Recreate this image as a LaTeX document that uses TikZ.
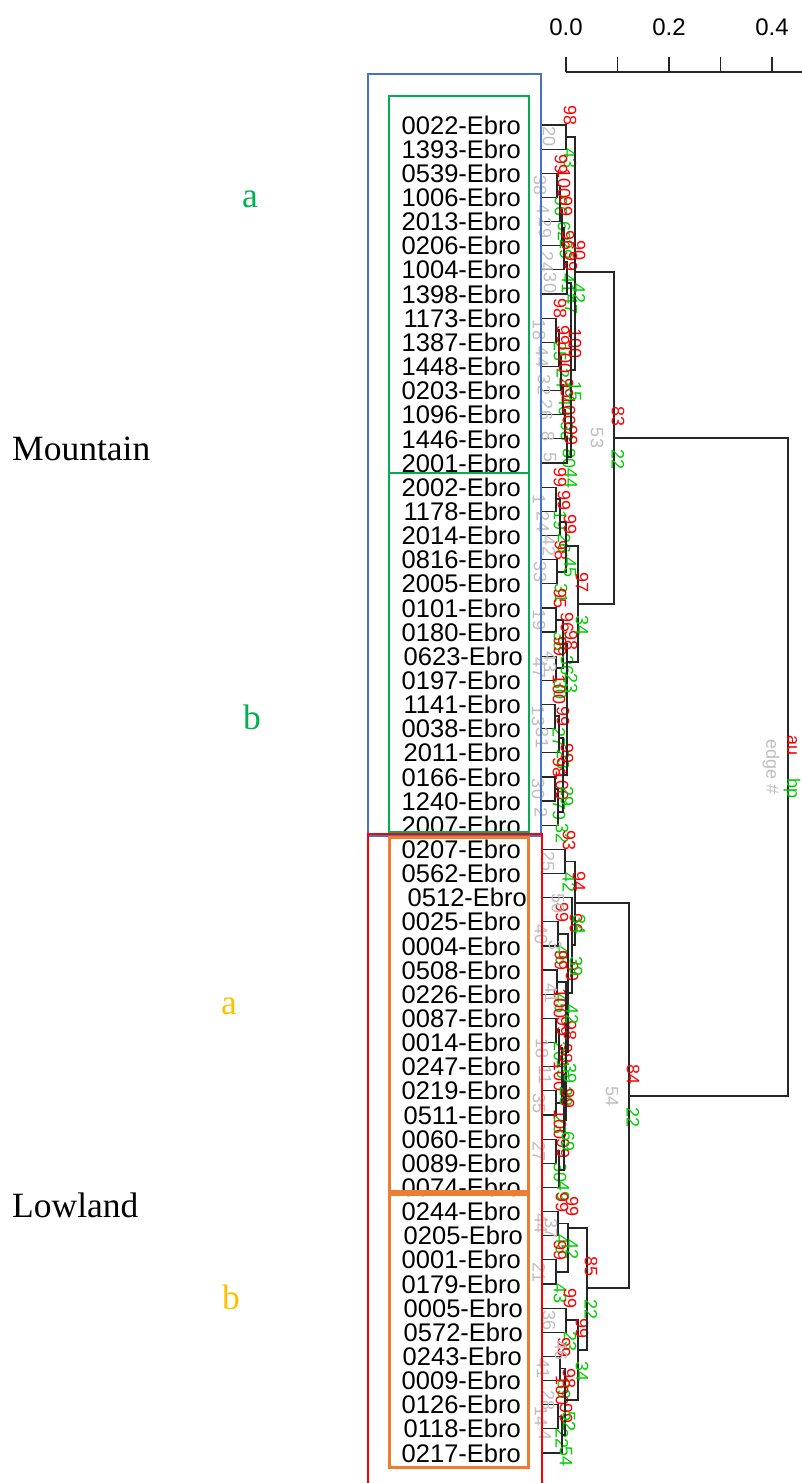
\documentclass[tikz,border=0pt]{standalone}
\usepackage{fontspec}
\setmainfont{Liberation Serif}
\setsansfont{Liberation Sans}
\usepackage{xcolor}
\definecolor{grpgreen}{HTML}{00B050}
\definecolor{grpgold}{HTML}{FFC000}
\definecolor{grporange}{HTML}{ED7D31}
\definecolor{grpblue}{HTML}{4472C4}
\definecolor{pvred}{HTML}{FF0000}
\definecolor{pvgreen}{HTML}{00CD00}
\definecolor{pvgrey}{HTML}{BEBEBE}
\usepackage{tikz}

\begin{document}
\begin{tikzpicture}[x=1pt, y=-1pt,
  tree/.style={black!85, line width=1.2pt},
  axis/.style={black!85, line width=1.2pt},
  leaf/.style={anchor=east, inner sep=0pt, font=\sffamily\fontsize{25.5}{26}\selectfont},
  num/.style={rotate=-90, inner sep=0pt, font=\sffamily\fontsize{18}{18}\selectfont},
  aulab/.style={num, text=pvred, anchor=east},
  bplab/.style={num, text=pvgreen, anchor=west},
  edgelab/.style={num, text=pvgrey},
  axlab/.style={inner sep=0pt, font=\sffamily\fontsize{24}{24}\selectfont},
  grp/.style={inner sep=0pt, font=\fontsize{35.5}{36}\selectfont},
  box/.style={line width=2pt}
]
  \useasboundingbox (0,0) rectangle (802,1483);

  % scale
  \draw[axis] (566,72) -- (802,72);
  \foreach \t in {0,...,4}
    \draw[axis] (566+51.5*\t,57) -- (566+51.5*\t,72);
  \node[axlab] (x0) at (566,27) {0.0};
  \node[axlab] (x2) at (669,27) {0.2};
  \node[axlab] (x4) at (772,27) {0.4};

  % leaves
  \foreach \lab/\dx [count=\i from 0] in {
    0022/0, 1393/0, 0539/0, 1006/0, 2013/0, 0206/0, 1004/0, 1398/0,
    1173/0, 1387/0, 1448/0, 0203/0, 1096/0, 1446/0, 2001/0,
    2002/0, 1178/0, 2014/0, 0816/0, 2005/0, 0101/0, 0180/0, 0623/2,
    0197/0, 1141/0, 0038/0, 2011/0, 0166/0, 1240/0, 2007/0,
    0207/0, 0562/0, 0512/6, 0025/0, 0004/0, 0508/0, 0226/0, 0087/0,
    0014/0, 0247/0, 0219/0, 0511/0, 0060/0, 0089/0, 0074/0,
    0244/0, 0205/2, 0001/0, 0179/0, 0005/2, 0572/2, 0243/1, 0009/0,
    0126/0, 0118/0, 0217/0}{
    \pgfmathsetmacro\yy{125+24.145*\i}
    \coordinate (L\i) at (542,\yy);
    \node[leaf] (t\i) at (521+\dx,\yy) {\lab-Ebro};
  }

  % merges: name/height/y/child/child/au/bp/edge
  \foreach \nd/\h/\y/\ca/\cb/\au/\bp/\ed in {
    n20/566/137/L0/L1/98/43/20,
    n38/557/185.4/L2/L3/99/96/38,
    n4/560/210/n38/L4/100/62/4,
    n29/562/228/n4/L5/99/29/29,
    n24/564/262/n29/L6/96/41/24,
    n30/567/283/n24/L7/99/47/30,
    n18/556/330/L8/L9/98/25/18,
    n44/559/357/n18/L10/99/24/44,
    n32/561/385/n44/L11/100/40/32,
    n26/563/410/n32/L12/99/93/26,
    n8/565/437/n26/L13/100/80/8,
    n5/567/457/n8/L14/99/44/5,
    nX/571/370/n30/n5/100/15/{},
    mA/575/272/n20/nX/90/42/{},
    m1/556/499/L15/L16/99/19/1,
    m24/560/522/m1/L17/99/26/24,
    m33/557/572/L18/L19/98/31/33,
    mP/566/546/m24/m33/99/45/42,
    m3/556/620/L20/L21/95/38/19,
    m47/556/668/L22/L23/99/30/47,
    mR/563/644/m3/m47/96/36/{},
    m13/555/716/L24/L25/100/27/13,
    m31/559/738/m13/L26/99/23/31,
    m30/555/789/L27/L28/98/79/30,
    m2/558/812/m30/L29/100/32/2,
    mS/563/775/m31/m2/99/29/{},
    mQ/567/662/mR/mS/98/23/43,
    mB/578/604/mP/mQ/97/34/{},
    c1/565/861.5/L30/L31/93/42/25,
    Z1/558/934/L33/L34/99/46/40,
    Z3/557/982/L35/L36/99/45/{},
    Z4/556/1030/L37/L38/100/20/{},
    Z5/559/1048/Z4/L39/99/19/18,
    Z6/556/1103/L40/L41/100/23/35,
    Z7/562/1075/Z5/Z6/98/28/11,
    Z8/556/1151/L42/L43/100/30/27,
    Z9/559/1170/Z8/L44/99/49/{},
    Z10/564/1120/Z7/Z9/99/69/{},
    Z2/566/1052/Z3/Z10/98/39/{},
    Z/568/993/Z1/Z2/99/42/41,
    B/572/945/L32/Z/96/39/3,
    mLA/575/903/c1/B/94/34/50,
    lb1/558/1223.6/L45/L46/99/45/44,
    lb2/556/1272/L47/L48/99/43/21,
    T/568/1228/lb1/lb2/99/42/37,
    lb3/566/1320/L49/L50/99/23/36,
    lb4/560/1368.5/L51/L52/99/89/41,
    lb5/558/1416.8/L53/L54/100/22/14,
    lb6/562/1435/lb5/L55/99/54/4,
    lb7/565/1400/lb4/lb6/98/52/28,
    Bt/578/1350/lb3/lb7/99/34/46,
    mLB/587/1288/T/Bt/85/22/{},
    mM/614/438/mA/mB/83/22/53,
    mL/629/1096/mLA/mLB/84/22/54,
    root/788/767/mM/mL/au/bp/edge \#}{
    \coordinate (\nd) at (\h,\y);
    \draw[tree] (\ca) -| (\nd) |- (\cb);
    \node[aulab] (au-\nd) at ([xshift=4pt,yshift=11pt]\nd) {\au};
    \node[bplab] (bp-\nd) at ([xshift=4pt,yshift=-11pt]\nd) {\bp};
    \node[edgelab] (ed-\nd) at ([xshift=-17pt]\nd) {\ed};
  }

  % groups
  \draw[box, grpblue] (368,74) rectangle (541,836);
  \draw[box, grpgreen] (389,96) rectangle (528.5,473);
  \draw[box, grpgreen] (389,473) rectangle (528.5,832);
  \draw[box, pvred, line width=2.5pt] (368,834) rectangle (542,1500);
  \draw[box, grporange, line width=3pt] (389,837) rectangle (528,1191);
  \draw[box, grporange, line width=3pt] (389,1194) rectangle (528,1467);

  \node[grp, text=grpgreen, anchor=base] (ma) at (250,207) {a};
  \node[grp, anchor=base west] (mtn) at (12,460) {Mountain};
  \node[grp, text=grpgreen, anchor=base] (mb) at (252,729) {b};
  \node[grp, text=grpgold, anchor=base] (la) at (229,1014) {a};
  \node[grp, anchor=base west] (low) at (12,1217) {Lowland};
  \node[grp, text=grpgold, anchor=base] (lb) at (231,1309) {b};
\end{tikzpicture}
\end{document}
